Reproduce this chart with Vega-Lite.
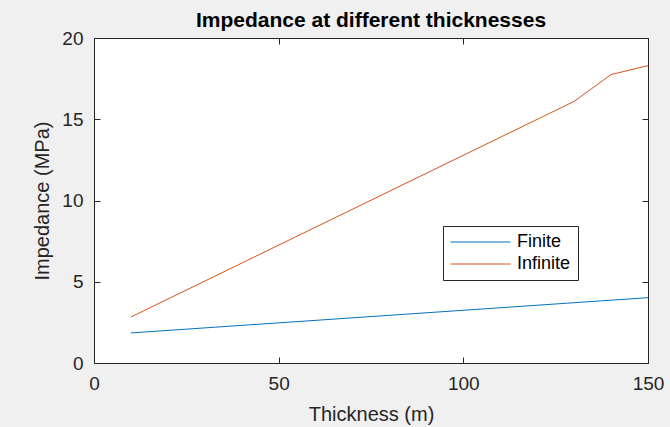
{
  "$schema": "https://vega.github.io/schema/vega-lite/v6.json",
  "width": 554,
  "height": 325,
  "autosize": {"type": "none"},
  "padding": {"left": 94, "top": 38, "right": 22, "bottom": 64},
  "background": "#f0f0f0",
  "title": {
    "text": "Impedance at different thicknesses",
    "font": "Liberation Sans",
    "fontSize": 21,
    "fontWeight": "bold",
    "color": "#000000",
    "anchor": "middle",
    "offset": -2
  },
  "config": {
    "view": {"fill": "white", "stroke": "#262626", "strokeWidth": 1},
    "axis": {
      "domain": false,
      "grid": false,
      "labelFlush": false,
      "tickColor": "#262626",
      "tickSize": -6,
      "tickWidth": 1,
      "labelFont": "Liberation Sans",
      "labelFontSize": 19,
      "labelColor": "#262626",
      "titleFont": "Liberation Sans",
      "titleFontSize": 20,
      "titleFontWeight": "normal",
      "titleColor": "#262626"
    }
  },
  "data": {
    "values": [
      {"thickness": 10, "impedance": 1.85, "type": "Finite"},
      {"thickness": 150, "impedance": 4.02, "type": "Finite"},
      {"thickness": 10, "impedance": 2.83, "type": "Infinite"},
      {"thickness": 130, "impedance": 16.1, "type": "Infinite"},
      {"thickness": 140, "impedance": 17.75, "type": "Infinite"},
      {"thickness": 150, "impedance": 18.3, "type": "Infinite"}
    ]
  },
  "layer": [
    {
      "mark": {"type": "line", "strokeWidth": 1},
      "encoding": {
        "x": {
          "field": "thickness", "type": "quantitative",
          "scale": {"domain": [0, 150], "nice": false, "zero": false},
          "axis": {"title": "Thickness (m)", "values": [0, 50, 100, 150], "labelPadding": 17, "labelFlush": false, "titleY": 57, "titleBaseline": "alphabetic"}
        },
        "y": {
          "field": "impedance", "type": "quantitative",
          "scale": {"domain": [0, 20], "nice": false, "zero": false},
          "axis": {"title": "Impedance (MPa)", "values": [0, 5, 10, 15, 20], "labelPadding": 17, "labelFlush": false, "titlePadding": 9}
        },
        "color": {
          "field": "type", "type": "nominal",
          "scale": {"domain": ["Finite", "Infinite"], "range": ["#0072BD", "#D95319"]},
          "legend": {
            "title": null,
            "orient": "none",
            "legendX": 349,
            "legendY": 188,
            "fillColor": "white",
            "strokeColor": "#262626",
            "padding": 7,
            "symbolType": "stroke",
            "symbolSize": 3600,
            "symbolStrokeWidth": 1,
            "clipHeight": 18,
            "labelFont": "Liberation Sans",
            "labelFontSize": 18,
            "labelColor": "#000000",
            "rowPadding": 4,
            "labelOffset": 6
          }
        }
      }
    },
    {
      "mark": {"type": "line", "strokeWidth": 0},
      "encoding": {
        "x": {"field": "thickness", "type": "quantitative", "scale": {"domain": [0, 150], "nice": false, "zero": false}, "axis": {"orient": "top", "labels": false, "title": null, "values": [0, 50, 100, 150]}},
        "y": {"field": "impedance", "type": "quantitative", "scale": {"domain": [0, 20], "nice": false, "zero": false}, "axis": {"orient": "right", "labels": false, "title": null, "values": [0, 5, 10, 15, 20]}}
      }
    }
  ],
  "resolve": {"axis": {"x": "independent", "y": "independent"}}
}
